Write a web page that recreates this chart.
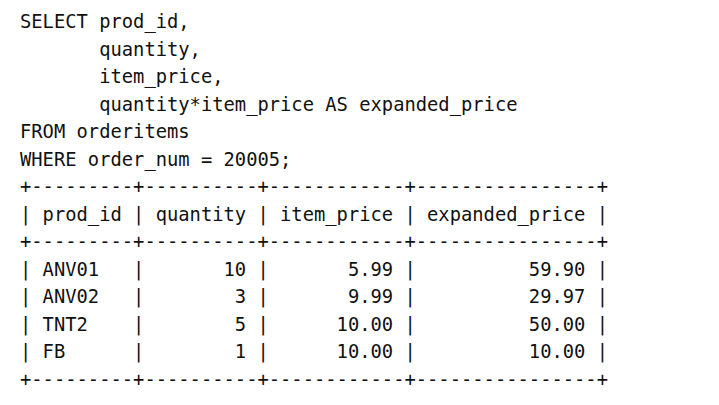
<!DOCTYPE html>
<html>
<head>
<meta charset="utf-8">
<script src="https://cdn.jsdelivr.net/npm/chart.js@4"></script>
<style>
  html, body { margin: 0; padding: 0; background: #fff; }
  body { width: 719px; height: 405px; overflow: hidden; }
  #listing {
    position: absolute;
    left: 20px;
    top: 8px;
    margin: 0;
    font-family: "DejaVu Sans Mono", "Liberation Mono", monospace;
    font-size: 18.8px;
    line-height: 27.5px;
    color: #111;
  }
</style>
</head>
<body>
<pre id="listing"></pre>
<script>
// requete SQL
const queryLines = [
    'SELECT prod_id,',
    '       quantity,',
    '       item_price,',
    '       quantity*item_price AS expanded_price',
    'FROM orderitems',
    'WHERE order_num = 20005;'
];

// resultat
const columns = ['prod_id', 'quantity', 'item_price', 'expanded_price'];
const prodIds = ['ANV01', 'ANV02', 'TNT2', 'FB'];
const quantities = [10, 3, 5, 1];
const itemPrices = [5.99, 9.99, 10.00, 10.00];
const expandedPrices = [59.90, 29.97, 50.00, 10.00];

const widths = columns.map(c => c.length);
widths[1] = Math.max(widths[1], 8);

const border = '+' + widths.map(w => '-'.repeat(w + 2)).join('+') + '+';
const row = cells => '| ' + cells.join(' | ') + ' |';

const lines = queryLines.slice();
lines.push(border);
lines.push(row(columns.map((c, i) => c.padEnd(widths[i]))));
lines.push(border);
for (let i = 0; i < prodIds.length; i++) {
    lines.push(row([
        prodIds[i].padEnd(widths[0]),
        String(quantities[i]).padStart(widths[1]),
        itemPrices[i].toFixed(2).padStart(widths[2]),
        expandedPrices[i].toFixed(2).padStart(widths[3])
    ]));
}
lines.push(border);

document.getElementById('listing').textContent = lines.join('\n');
</script>
</body>
</html>
